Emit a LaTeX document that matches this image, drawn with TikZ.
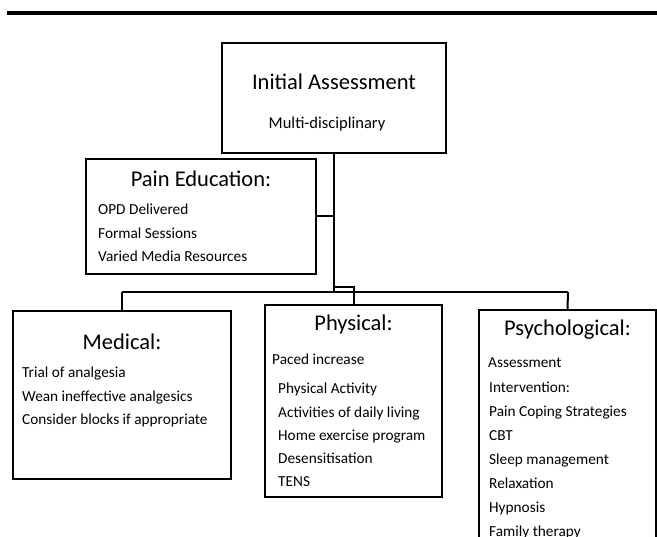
\documentclass[tikz,border=0pt]{standalone}
\usepackage{fontspec}
\setmainfont{Carlito}
\usetikzlibrary{calc}
\usetikzlibrary{positioning}

\begin{document}
\begin{tikzpicture}[x=1pt,y=-1pt,
    box/.style={draw,rectangle,line width=2.2pt,inner sep=0pt},
    head/.style={font=\fontsize{22.5}{24}\selectfont,anchor=base,inner sep=0pt},
    item/.style={font=\fontsize{15.3}{17}\selectfont,anchor=base west,inner sep=0pt},
    wire/.style={line width=2pt}]

  \useasboundingbox (0,0) rectangle (657,537);
  \clip (0,0) rectangle (657,537);

  \draw [line width=4pt] (7,13) -- (657,13);

  % initial assessment
  \node [box,minimum width=224pt,minimum height=110pt] (init) at (334,98) {};
  \node [head] (init_lab) at (334,89.5) {Initial Assessment};
  \node [item,anchor=base,font=\fontsize{16.5}{18}\selectfont] (init_sub) at (327,129) {Multi-disciplinary};

  % pain education
  \node [box,minimum width=230pt,minimum height=115pt] (edu) at (201,216.5) {};
  \node [head] (edu_lab) at (201,186.5) {Pain Education:};
  \foreach \txt [count=\i] in {OPD Delivered, Formal Sessions, Varied Media Resources}
    \node [item] (edu_\i) at (98,191.5+23.5*\i) {\txt};

  % medical
  \node [box,minimum width=218pt,minimum height=168pt] (med) at (122,395) {};
  \node [head] (med_lab) at (122,349.5) {Medical:};
  \foreach \txt [count=\i] in {Trial of analgesia, Wean ineffective analgesics, Consider blocks if appropriate}
    \node [item] (med_\i) at (22,354.5+23.5*\i) {\txt};

  % physical
  \node [box,minimum width=177pt,minimum height=192pt] (phys) at (353.5,401) {};
  \node [head] (phys_lab) at (353.5,330.5) {Physical:};
  \node [item] (phys_pace) at (272,365) {Paced increase};
  \foreach \txt [count=\i] in {Physical Activity, Activities of daily living, Home exercise program, Desensitisation, TENS}
    \node [item] (phys_\i) at (278,370.75+23.25*\i) {\txt};

  % psychological
  \node [box,minimum width=177pt,minimum height=260pt] (psych) at (567.5,440) {};
  \node [head] (psych_lab) at (567.5,335.5) {Psychological:};
  \node [item] (psych_ass) at (488,368) {Assessment};
  \node [item] (psych_int) at (489,393) {Intervention:};
  \foreach \txt [count=\i] in {Pain Coping Strategies, CBT, Sleep management, Relaxation, Hypnosis, Family therapy}
    \node [item] (psych_\i) at (489,393+24*\i) {\txt};

  % connectors
  \coordinate (bus_l) at (122,292);
  \coordinate (bus_r) at (568,292);
  \coordinate (hop) at (334,287);

  \draw [wire] (init.south) -- (init.south |- bus_l);
  \draw [wire] (edu.east) -- (edu.east -| init.south);
  \draw [wire] (bus_l) -- (bus_r);
  \draw [wire] (bus_l) -- (med.north);
  \draw [wire] (bus_r) -- (psych.north);
  \draw [wire] (phys.north) |- (hop);

\end{tikzpicture}
\end{document}
